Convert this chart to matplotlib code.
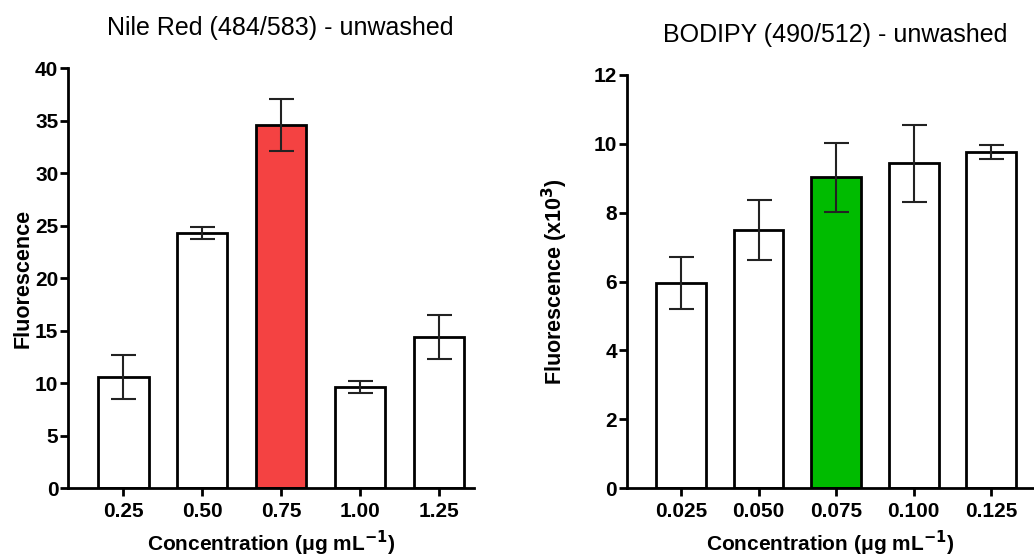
import numpy as np
import matplotlib
matplotlib.use("Agg")
import matplotlib.pyplot as plt

# ==========================================
# DATA
# ==========================================
nile_labels = ["0.25", "0.50", "0.75", "1.00", "1.25"]
nile_means = [10.6, 24.3, 34.6, 9.6, 14.4]
nile_errs = [2.1, 0.6, 2.5, 0.55, 2.1]
nile_colors = ["white", "white", "#F44242", "white", "white"]

bodipy_labels = ["0.025", "0.050", "0.075", "0.100", "0.125"]
bodipy_means = [5.95, 7.5, 9.03, 9.43, 9.77]
bodipy_errs = [0.75, 0.87, 1.0, 1.13, 0.2]
bodipy_colors = ["white", "white", "#00BB00", "white", "white"]

plt.rcParams["font.family"] = ["Liberation Sans", "DejaVu Sans"]


def draw_panel(ax, labels, means, errs, colors, title, title_x, ylabel, yticks, ypad):
    x = np.arange(len(labels))
    ax.bar(x, means, width=0.64, color=colors, edgecolor="black",
           linewidth=2.0, zorder=2)
    ax.errorbar(x, means, yerr=errs, fmt="none", ecolor="#222222",
                elinewidth=1.5, capsize=9, capthick=1.5, zorder=3)
    ax.set_xticks(x)
    ax.set_xticklabels(labels, fontsize=15, fontweight="bold")
    ax.set_yticks(yticks)
    ax.set_yticklabels([str(t) for t in yticks], fontsize=15, fontweight="bold")
    ax.set_ylim(0, yticks[-1])
    for s in ("top", "right"):
        ax.spines[s].set_visible(False)
    for s in ("left", "bottom"):
        ax.spines[s].set_linewidth(2.0)
    ax.tick_params(axis="both", direction="out", length=6, width=2.0)
    ax.tick_params(axis="y", pad=1)
    ax.tick_params(axis="x", pad=4)
    ax.set_title(title, fontsize=18, pad=24, x=title_x)
    ax.set_ylabel(ylabel, fontsize=15.5, fontweight="bold", labelpad=ypad)
    ax.set_xlabel("Concentration (\u03bcg mL$^{\\mathbf{-1}}$)", fontsize=15,
                  fontweight="bold", labelpad=6)


fig = plt.figure(figsize=(10.34, 5.58), dpi=100)
ax1 = fig.add_axes([0.0658, 0.1254, 0.393, 0.7526])
ax2 = fig.add_axes([0.606, 0.1254, 0.394, 0.7402])

draw_panel(ax1, nile_labels, nile_means, nile_errs, nile_colors,
           "Nile Red (484/583) - unwashed", 0.523, "Fluorescence",
           [0, 5, 10, 15, 20, 25, 30, 35, 40], 1)
ax1.set_xlim(-0.7, 4.45)

draw_panel(ax2, bodipy_labels, bodipy_means, bodipy_errs, bodipy_colors,
           "BODIPY (490/512) - unwashed", 0.511, "Fluorescence (x10$^{\\mathbf{3}}$)",
           [0, 2, 4, 6, 8, 10, 12], 17)
ax2.set_xlim(-0.7, 4.55)

fig.savefig("out.png", dpi=100)
